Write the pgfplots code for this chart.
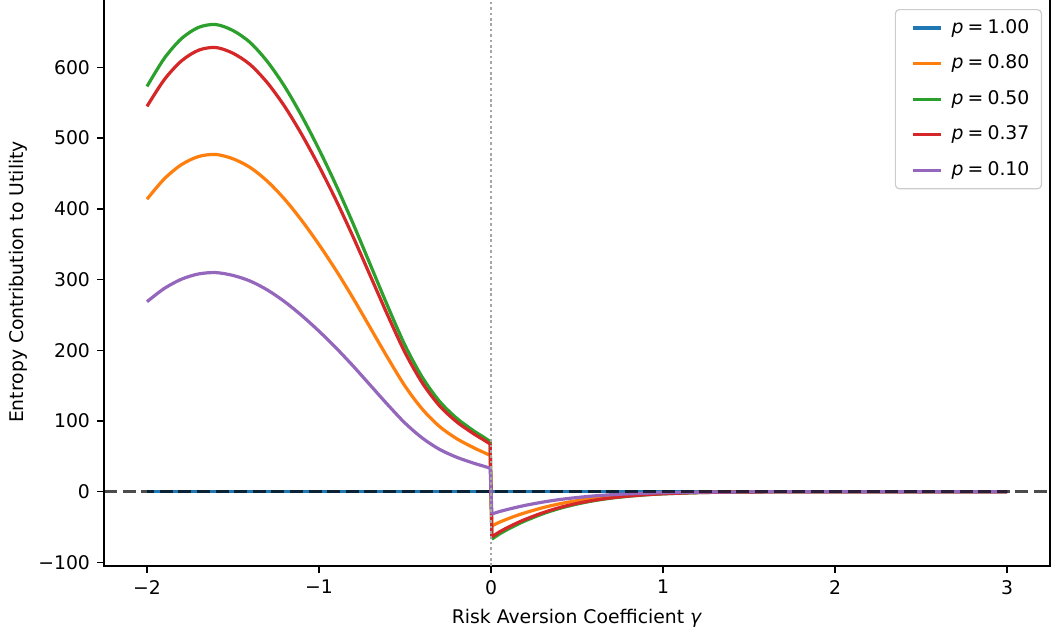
\documentclass[border=0pt]{standalone}
\usepackage{fontspec}
\setmainfont{DejaVu Sans}
\usepackage{pgfplots}
\usepackage{pgfplotstable}
\pgfplotsset{compat=1.18}
\usetikzlibrary{calc}

\definecolor{tabblue}{HTML}{1F77B4}
\definecolor{taborange}{HTML}{FF7F0E}
\definecolor{tabgreen}{HTML}{2CA02C}
\definecolor{tabred}{HTML}{D62728}
\definecolor{tabpurple}{HTML}{9467BD}

% entropy contribution for gamma < 0
\pgfplotstableread{
gamma  p080   p050   p037   p010
-2.0   413.6  573.0  544.8  268.7
-1.9   442.2  612.5  582.4  287.3
-1.8   462.4  640.5  609.0  300.4
-1.7   473.9  656.5  624.2  307.9
-1.6   476.8  660.5  628.0  309.8
-1.5   470.7  652.0  619.9  305.8
-1.4   458.4  635.0  603.8  297.8
-1.3   438.9  608.0  578.1  285.2
-1.2   413.6  573.0  544.8  268.7
-1.1   383.3  531.0  504.9  249.0
-1.0   349.4  484.0  460.2  227.0
-0.9   312.6  433.0  411.7  203.1
-0.8   272.9  378.0  359.4  177.3
-0.7   231.0  320.0  304.3  150.1
-0.6   189.1  262.0  249.1  122.9
-0.5   149.4  207.0  196.8  97.1
-0.4   116.9  162.0  154.0  76.0
-0.3   92.4   128.0  121.7  60.0
-0.2   75.1   104.0  98.9   48.8
-0.1   62.1   86.0   81.8   40.3
-0.05  56.5   78.3   74.4   36.7
-0.005 51.3   71.0   67.5   33.3
}\negside

% entropy contribution for gamma > 0
\pgfplotstableread{
gamma  p080   p050   p037   p010
0.005  -48.4  -67.0  -63.7  -31.4
0.05   -43.0  -59.6  -56.7  -28.0
0.1    -38.1  -52.8  -50.2  -24.8
0.15   -33.6  -46.6  -44.3  -21.9
0.2    -29.6  -41.0  -39.0  -19.2
0.3    -22.6  -31.3  -29.8  -14.7
0.4    -17.0  -23.5  -22.3  -11.0
0.5    -12.6  -17.4  -16.5  -8.2
0.6    -9.1   -12.6  -12.0  -5.9
0.7    -6.5   -9.0   -8.6   -4.2
0.8    -4.6   -6.4   -6.1   -3.0
0.9    -3.2   -4.4   -4.2   -2.1
1.0    -2.2   -3.0   -2.9   -1.4
1.2    -0.94  -1.3   -1.24  -0.61
1.4    -0.40  -0.56  -0.53  -0.26
1.6    -0.16  -0.22  -0.21  -0.10
1.8    -0.06  -0.08  -0.08  -0.04
2.0    -0.02  -0.03  -0.03  -0.01
2.5    0      0      0      0
3.0    0      0      0      0
}\posside

\newcommand{\lblfont}{\fontsize{9.4}{11}\selectfont}
\newcommand{\pval}[1]{\textit{p}\hspace{0.22em}=\hspace{0.22em}#1}

\begin{document}
\begin{tikzpicture}
\begin{axis}[
  scale only axis,
  width=473pt, height=284pt,
  xmin=-2.25, xmax=3.25,
  ymin=-105, ymax=698,
  axis line style={line width=0.75pt, black},
  tick style={line width=0.75pt, black},
  tick align=outside,
  major tick length=3.5pt,
  xtick pos=left, ytick pos=left,
  xtick={-2,-1,0,1,2,3},
  xticklabels={−2,−1,0,1,2,3},
  ytick={-100,0,100,200,300,400,500,600},
  yticklabels={−100,0,100,200,300,400,500,600},
  tick label style={font=\lblfont},
  /pgf/number format/assume math mode=true,
  every axis x label/.style={at={([yshift=-28.5pt]rel axis cs:0.5,0)}, anchor=base, font=\lblfont},
  every axis y label/.style={at={([xshift=-43pt]rel axis cs:0,0.5)}, rotate=90, anchor=center, font=\lblfont},
  xlabel={Risk Aversion Coefficient \textit{γ}},
  ylabel={Entropy Contribution to Utility},
  legend cell align=left,
  legend image code/.code={\path (-5pt,0pt); \draw[#1] (0pt,0pt) -- (14pt,0pt);},
  legend style={
    at={(1,1)}, anchor=north east, xshift=-4pt, yshift=-5.5pt,
    draw=black!20, line width=0.6pt, rounded corners=2pt,
    fill=white, fill opacity=0.8, text opacity=1,
    font=\lblfont,
    inner xsep=3pt, inner ysep=3pt,
    row sep=5.4pt, column sep=1.5pt,
    nodes={inner xsep=3pt, inner ysep=1.5pt, text height=7.2pt, text depth=2.2pt},
  },
]
  \coordinate (bl) at (rel axis cs:0,0);
  \coordinate (tr) at (rel axis cs:1,1);

  % p = 1.00 carries no entropy
  \addplot[tabblue, line width=1.6pt] coordinates {(-2,0) (3,0)};
  \addlegendentry{\pval{1.00}}

  \addplot[taborange, line width=1.6pt, smooth] table[x=gamma, y=p080] {\negside};
  \addlegendentry{\pval{0.80}}
  \addplot[taborange, line width=1.6pt, smooth, forget plot] table[x=gamma, y=p080] {\posside};
  \addplot[taborange, line width=1.6pt, forget plot] coordinates {(-0.005,51.3) (0.005,-48.4)};

  \addplot[tabgreen, line width=1.6pt, smooth] table[x=gamma, y=p050] {\negside};
  \addlegendentry{\pval{0.50}}
  \addplot[tabgreen, line width=1.6pt, smooth, forget plot] table[x=gamma, y=p050] {\posside};
  \addplot[tabgreen, line width=1.6pt, forget plot] coordinates {(-0.005,71.0) (0.005,-67.0)};

  \addplot[tabred, line width=1.6pt, smooth] table[x=gamma, y=p037] {\negside};
  \addlegendentry{\pval{0.37}}
  \addplot[tabred, line width=1.6pt, smooth, forget plot] table[x=gamma, y=p037] {\posside};
  \addplot[tabred, line width=1.6pt, forget plot] coordinates {(-0.005,67.5) (0.005,-63.7)};

  \addplot[tabpurple, line width=1.6pt, smooth] table[x=gamma, y=p010] {\negside};
  \addlegendentry{\pval{0.10}}
  \addplot[tabpurple, line width=1.6pt, smooth, forget plot] table[x=gamma, y=p010] {\posside};
  \addplot[tabpurple, line width=1.6pt, forget plot] coordinates {(-0.005,33.3) (0.005,-31.4)};

  % reference lines at zero
  \addplot[forget plot, black, opacity=0.7, line width=1.5pt, dash pattern=on 6.5pt off 2.8pt] coordinates {(-2.25,0) (3.25,0)};
  \addplot[forget plot, gray!70, line width=1.3pt, dash pattern=on 1.3pt off 1.4pt] coordinates {(0,-105) (0,698)};
\end{axis}
\pgfresetboundingbox
\path[use as bounding box] ($(bl)+(-52pt,-35.5pt)$) rectangle ($(tr)+(2pt,-1pt)$);
\end{tikzpicture}
\end{document}
